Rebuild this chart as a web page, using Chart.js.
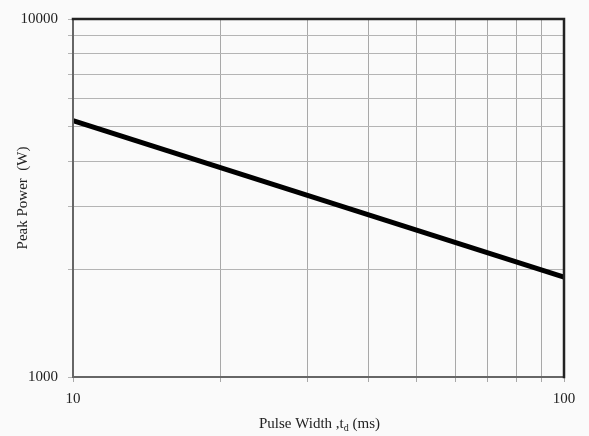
<!DOCTYPE html>
<html>
<head>
<meta charset="utf-8">
<script src="https://cdn.jsdelivr.net/npm/chart.js@4"></script>
<style>
  html, body { margin: 0; padding: 0; background: #fafafa; }
  #wrap { width: 589px; height: 436px; }
</style>
</head>
<body>
<div id="wrap"><canvas id="myChart"></canvas></div>
<script>
// values
const pulseWidth = [10, 100];          // ms
const peakPower = [5200, 1900];        // W
const xGridValues = [10, 20, 30, 40, 50, 60, 70, 80, 90, 100];
const yGridValues = [1000, 2000, 3000, 4000, 5000, 6000, 7000, 8000, 9000, 10000];
const xTickLabels = [10, 100];
const yTickLabels = [1000, 10000];

const serif = "'Liberation Serif', 'Times New Roman', serif";

// frame around the plot + x title with subscript
const framePlugin = {
  id: "frame",
  afterDatasetsDraw(chart) {
    const { ctx, chartArea: a } = chart;
    ctx.save();
    ctx.lineCap = "square";
    ctx.strokeStyle = "#666";
    ctx.lineWidth = 2;
    ctx.beginPath();
    ctx.moveTo(a.left, a.top);
    ctx.lineTo(a.left, a.bottom);
    ctx.lineTo(a.right, a.bottom);
    ctx.stroke();
    ctx.strokeStyle = "#222";
    ctx.lineWidth = 2.5;
    ctx.beginPath();
    ctx.moveTo(a.left, a.top);
    ctx.lineTo(a.right, a.top);
    ctx.lineTo(a.right, a.bottom);
    ctx.stroke();

    // x axis title: "Pulse Width ,t" + sub "d" + " (ms)"
    const p1 = "Pulse Width ,t", sub = "d", p2 = " (ms)";
    ctx.fillStyle = "#222";
    ctx.textBaseline = "alphabetic";
    ctx.font = "15px " + serif;
    const w1 = ctx.measureText(p1).width, w3 = ctx.measureText(p2).width;
    ctx.font = "10px " + serif;
    const w2 = ctx.measureText(sub).width;
    const cx = (a.left + a.right) / 2 + 1;
    let x = cx - (w1 + w2 + w3) / 2;
    const y = 428;
    ctx.font = "15px " + serif;
    ctx.fillText(p1, x, y);
    x += w1;
    ctx.font = "10px " + serif;
    ctx.fillText(sub, x, y + 3);
    x += w2;
    ctx.font = "15px " + serif;
    ctx.fillText(p2, x, y);
    ctx.restore();
  }
};

const ctx = document.getElementById("myChart").getContext("2d");
const myChart = new Chart(ctx, {
  type: "scatter",
  data: {
    datasets: [{
      data: pulseWidth.map((v, i) => ({ x: v, y: peakPower[i] })),
      showLine: true,
      borderColor: "#000",
      borderWidth: 5,
      pointRadius: 0,
      fill: false
    }]
  },
  options: {
    responsive: true,
    maintainAspectRatio: false,
    animation: false,
    layout: { padding: { top: 18, right: 25, left: 0, bottom: 0 } },
    plugins: {
      legend: { display: false },
      tooltip: { enabled: false }
    },
    scales: {
      x: {
        type: "logarithmic",
        min: 10,
        max: 100,
        afterBuildTicks: (s) => { s.ticks = xGridValues.map(v => ({ value: v })); },
        afterFit: (s) => { s.height = 59; },
        border: { display: false },
        grid: { color: "#a8a8a8", lineWidth: 1, tickLength: 5 },
        ticks: {
          autoSkip: false,
          maxRotation: 0,
          padding: 8,
          color: "#222",
          font: { family: serif, size: 15 },
          callback: (v) => xTickLabels.includes(v) ? String(v) : ""
        }
      },
      y: {
        type: "logarithmic",
        min: 1000,
        max: 10000,
        afterBuildTicks: (s) => { s.ticks = yGridValues.map(v => ({ value: v })); },
        afterFit: (s) => { s.width = 73; },
        border: { display: false },
        grid: { color: "#b4b4b4", lineWidth: 1, tickLength: 5 },
        ticks: {
          autoSkip: false,
          padding: 10,
          color: "#222",
          font: { family: serif, size: 15 },
          callback: (v) => yTickLabels.includes(v) ? String(v) : ""
        },
        title: {
          display: true,
          text: "Peak Power  (W)",
          color: "#222",
          padding: { top: 14, bottom: 6 },
          font: { family: serif, size: 15 }
        }
      }
    }
  },
  plugins: [framePlugin]
});
</script>
</body>
</html>
